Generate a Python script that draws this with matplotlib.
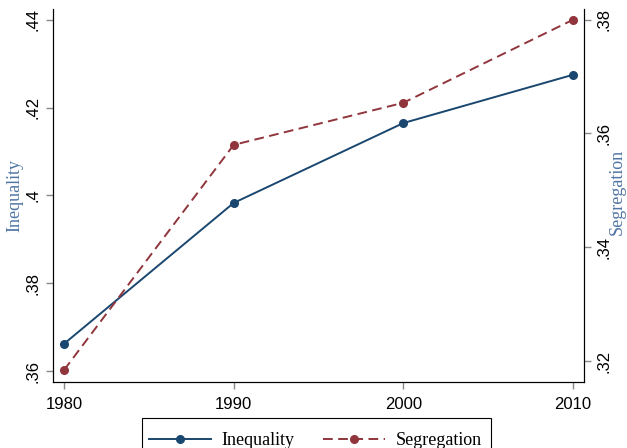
import matplotlib.pyplot as plt
from matplotlib.lines import Line2D
from matplotlib.patches import Rectangle

# data
years = [1980, 1990, 2000, 2010]
inequality = [0.3662, 0.3983, 0.4165, 0.4275]
segregation = [0.3184, 0.3580, 0.3654, 0.3800]

left_ticks = [0.36, 0.38, 0.40, 0.42, 0.44]
left_labels = ['.36', '.38', '.4', '.42', '.44']
right_ticks = [0.32, 0.34, 0.36, 0.38]
right_labels = ['.32', '.34', '.36', '.38']

navy = '#1a476f'
maroon = '#90353b'
title_col = '#4f75a3'
dash = (0, (5, 2.8))

fig = plt.figure(figsize=(6.27, 4.48), dpi=100)
ax = fig.add_axes([0.0845, 0.1473, 0.8469, 0.8327])
ax2 = ax.twinx()

ax.plot(years, inequality, color=navy, lw=1.4, marker='o', ms=5.5)
ax2.plot(years, segregation, color=maroon, lw=1.4, ls=dash, marker='o', ms=5.5)

ax.set_xlim(1979.35, 2010.65)
ax.set_ylim(0.3575, 0.4425)
ax2.set_ylim(0.3163, 0.3819)

ax.set_xticks(years)
ax.set_xticklabels([str(y) for y in years], fontsize=12, family='Liberation Sans')
ax.set_yticks(left_ticks)
ax.set_yticklabels(left_labels, rotation=90, va='center', fontsize=12, family='Liberation Sans')
ax2.set_yticks(right_ticks)
ax2.set_yticklabels(right_labels, rotation=90, va='center', fontsize=12, family='Liberation Sans')

for a in (ax, ax2):
    a.spines['top'].set_visible(False)
    a.tick_params(direction='out', length=5, color='#888888', width=1, pad=4)
ax.tick_params(axis='x', pad=6)

# axis titles placed by hand, like the Stata layout
fig.text(15 / 627, 1 - 195 / 448, 'Inequality', rotation=90, ha='center', va='center',
         color=title_col, fontsize=13, family='Liberation Serif')
fig.text(617 / 627, 1 - 192 / 448, 'Segregation', rotation=90, ha='center', va='center',
         color=title_col, fontsize=13, family='Liberation Serif')

# legend (frame drawn separately, it runs off the bottom edge)
handles = [Line2D([], [], color=navy, lw=1.4, marker='o', ms=5.5),
           Line2D([], [], color=maroon, lw=1.4, ls=dash, marker='o', ms=5.5)]
leg = fig.legend(handles, ['Inequality', 'Segregation'], loc='upper left',
                 bbox_to_anchor=(142 / 627, 1 - 425 / 448), ncol=2, borderaxespad=0,
                 prop={'family': 'Liberation Serif', 'size': 13}, frameon=False,
                 handlelength=3.4, columnspacing=1.6, borderpad=0.4, handletextpad=0.6)
fig.patches.append(Rectangle((142 / 627, 1 - 470 / 448), (491 - 142) / 627, 52 / 448,
                             transform=fig.transFigure, fill=False, ec='black', lw=0.8))

fig.savefig('out.png', dpi=100)
